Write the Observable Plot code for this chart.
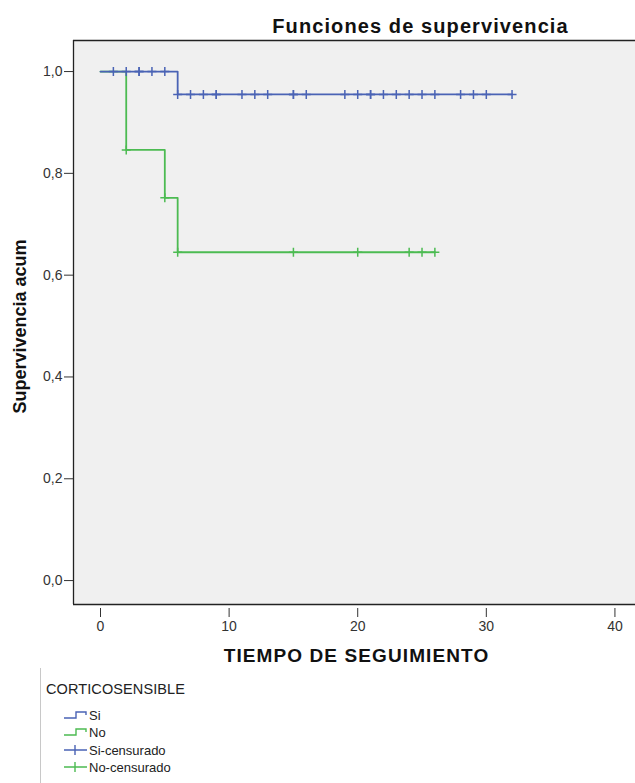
<!DOCTYPE html>
<html>
<head>
<meta charset="utf-8">
<script src="https://cdn.jsdelivr.net/npm/d3@7"></script>
<script src="https://cdn.jsdelivr.net/npm/@observablehq/plot@0.6"></script>
<style>
  html, body { margin: 0; padding: 0; background: #fff; }
  #wrap { position: relative; width: 635px; height: 783px; overflow: hidden; font-family: "Liberation Sans", Arial, sans-serif; }
  #legend { position: absolute; left: 40px; top: 668px; width: 300px; height: 120px; border-left: 1px solid #c8c8c8; }
  #legend .ttl { position: absolute; left: 5px; top: 13px; font-size: 14.5px; color: #222; letter-spacing: 0.1px; }
  #legend .item { position: absolute; left: 22px; height: 16px; display: flex; align-items: center; font-size: 13px; color: #222; }
  #legend svg { display: block; margin-right: 1px; }
</style>
</head>
<body>
<div id="wrap"></div>
<script>
// ---- data ----
const title = "Funciones de supervivencia";
const xLabel = "TIEMPO DE SEGUIMIENTO";
const yLabel = "Supervivencia acum";
const legendTitle = "CORTICOSENSIBLE";
const groups = ["Si", "No"];
const groupColors = ["#4a63b5", "#4cbb52"];
const xTicks = [0, 10, 20, 30, 40];
const yTicks = [0, 0.2, 0.4, 0.6, 0.8, 1.0];
const xDomain = [-2.1, 41.6];
const yDomain = [-0.047, 1.061];

// step curves (time, cumulative survival)
const siTimes = [0, 6, 32];
const siSurv  = [1.0, 0.955, 0.955];
const noTimes = [0, 2, 5, 6, 26];
const noSurv  = [1.0, 0.846, 0.752, 0.645, 0.645];

// censored observations
const siCensTimes = [1, 2, 3, 3, 4, 5, 6, 7, 8, 9, 9, 11, 12, 13, 15, 15, 16, 19, 20, 21, 21, 22, 23, 24, 25, 26, 28, 29, 30, 32];
const siCensSurv  = [1, 1, 1, 1, 1, 1, 0.955, 0.955, 0.955, 0.955, 0.955, 0.955, 0.955, 0.955, 0.955, 0.955, 0.955, 0.955, 0.955, 0.955, 0.955, 0.955, 0.955, 0.955, 0.955, 0.955, 0.955, 0.955, 0.955, 0.955];
const noCensTimes = [2, 5, 6, 15, 20, 24, 25, 26];
const noCensSurv  = [0.846, 0.752, 0.645, 0.645, 0.645, 0.645, 0.645, 0.645];

// ---- build tables ----
const curves = [
  ...siTimes.map((t, i) => ({group: "Si", t, s: siSurv[i]})),
  ...noTimes.map((t, i) => ({group: "No", t, s: noSurv[i]}))
];
const cens = [
  ...noCensTimes.map((t, i) => ({group: "No", t, s: noCensSurv[i]})),
  ...siCensTimes.map((t, i) => ({group: "Si", t, s: siCensSurv[i]}))
];

const plusSymbol = {
  draw(context, size) {
    const r = Math.sqrt(size / Math.PI);
    context.moveTo(-r, 0); context.lineTo(r, 0);
    context.moveTo(0, -r); context.lineTo(0, r);
  }
};

const fmt = d => d.toFixed(1).replace(".", ",");

const chart = Plot.plot({
  width: 635,
  height: 672,
  marginLeft: 73,
  marginRight: 0,
  marginTop: 40,
  marginBottom: 68,
  style: {fontFamily: "'Liberation Sans', Arial, sans-serif", background: "#fff", overflow: "visible"},
  x: {domain: xDomain},
  y: {domain: yDomain},
  color: {domain: groups, range: groupColors},
  marks: [
    Plot.frame({fill: "#f0f0f0", stroke: "none"}),
    Plot.ruleY([yDomain[1], yDomain[0]], {stroke: "#222", strokeWidth: 1.3}),
    Plot.ruleX([xDomain[0]], {stroke: "#222", strokeWidth: 1.3}),
    Plot.axisX({ticks: xTicks, tickSize: 9, tickPadding: 4, dy: 4, tickFormat: d => d, fontSize: 14, color: "#333", label: null}),
    Plot.axisY({ticks: yTicks, tickSize: 9, tickPadding: 2, tickFormat: fmt, fontSize: 14, color: "#333", label: null}),
    Plot.line(curves.filter(d => d.group === "No"), {x: "t", y: "s", stroke: "group", curve: "step-after", strokeWidth: 1.8}),
    Plot.line(curves.filter(d => d.group === "Si"), {x: "t", y: "s", stroke: "group", curve: "step-after", strokeWidth: 1.8}),
    Plot.dot(cens, {x: "t", y: "s", stroke: "group", symbol: plusSymbol, r: 4.5, strokeWidth: 1.5, fill: "none"}),
    Plot.text([title], {frameAnchor: "top", dx: 66, dy: -22, fontWeight: "bold", fontSize: 20, fill: "#111"}),
    Plot.text([yLabel], {frameAnchor: "left", textAnchor: "middle", rotate: -90, dx: -53, dy: 4, fontWeight: "bold", fontSize: 18, fill: "#111"}),
    Plot.text([xLabel], {frameAnchor: "bottom", dx: 2, dy: 57, fontWeight: "bold", fontSize: 19, fill: "#111"})
  ]
});

const wrap = document.getElementById("wrap");
wrap.appendChild(chart);
// letter spacing for the two big labels
chart.querySelectorAll("text").forEach(t => {
  if (t.textContent === title) t.setAttribute("letter-spacing", "1.1");
  if (t.textContent === xLabel) t.setAttribute("letter-spacing", "1.1");
});

// ---- legend ----
const legend = document.createElement("div");
legend.id = "legend";
legend.innerHTML = `<div class="ttl">${legendTitle}</div>`;
const items = [
  {label: groups[0], color: groupColors[0], type: "step"},
  {label: groups[1], color: groupColors[1], type: "step"},
  {label: groups[0] + "-censurado", color: groupColors[0], type: "plus"},
  {label: groups[1] + "-censurado", color: groupColors[1], type: "plus"}
];
const tops = [39, 56, 74, 91];
items.forEach((it, i) => {
  const d = document.createElement("div");
  d.className = "item";
  d.style.top = tops[i] + "px";
  const icon = it.type === "step"
    ? `<svg width="25" height="12"><path d="M1,9 H13 V3 H23 V6" fill="none" stroke="${it.color}" stroke-width="1.4"/></svg>`
    : `<svg width="25" height="12"><path d="M1,6 H24 M12,1 V11" fill="none" stroke="${it.color}" stroke-width="1.4"/></svg>`;
  d.innerHTML = icon + `<span>${it.label}</span>`;
  legend.appendChild(d);
});
wrap.appendChild(legend);
</script>
</body>
</html>
